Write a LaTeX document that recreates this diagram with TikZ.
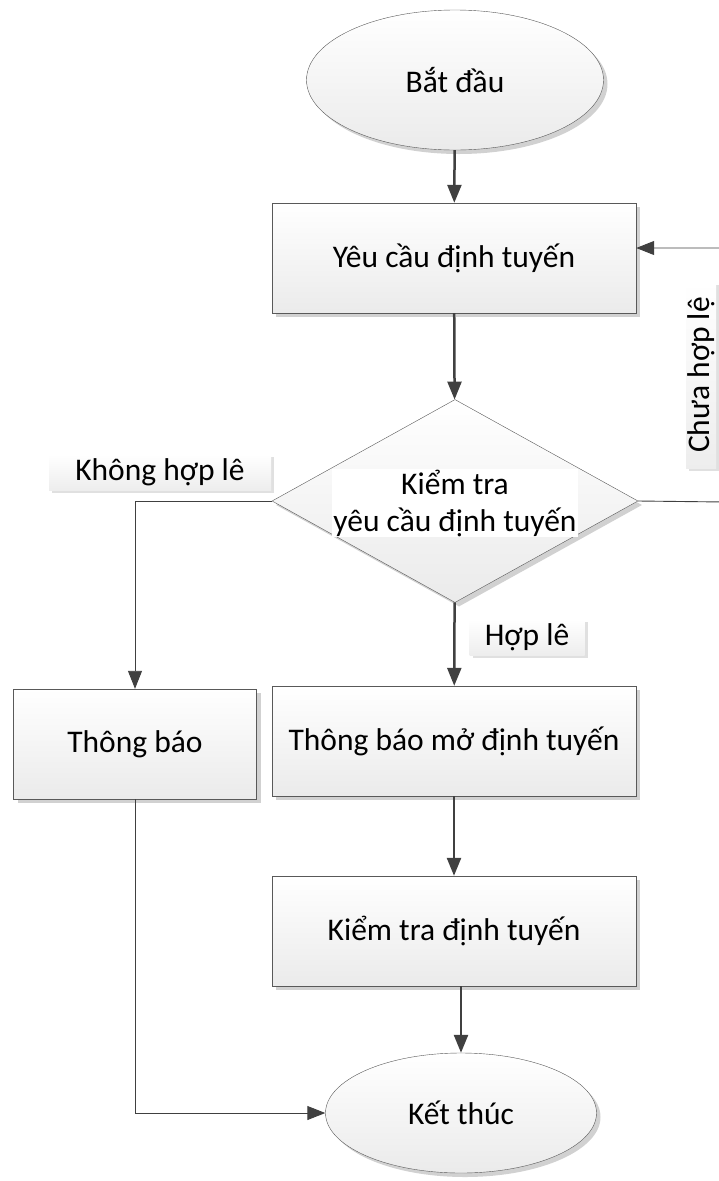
\documentclass[tikz,border=0pt]{standalone}
\usepackage{fontspec}
\setmainfont{Carlito}
\usetikzlibrary{arrows.meta,positioning,calc,shapes.geometric,shadows}

\begin{document}
\begin{tikzpicture}[
		x=1pt, y=-1pt,
		>={Triangle[length=18pt,width=14pt]},
		txt/.style={font=\fontsize{31.5}{37}\selectfont, align=center, text=black},
		boxshade/.style={draw=black!65, top color=white, bottom color=gray!16,
			drop shadow={shadow xshift=4pt, shadow yshift=-4pt, opacity=0.18, fill=black}},
		procbox/.style={boxshade, txt, minimum width=364pt, minimum height=110pt, inner sep=0pt},
		termnode/.style={boxshade, txt, ellipse, inner sep=0pt},
		decnode/.style={boxshade, diamond, minimum width=366pt, minimum height=203pt, inner sep=0pt},
		tagbox/.style={txt, top color=white, bottom color=gray!14, inner sep=0pt,
			drop shadow={shadow xshift=3pt, shadow yshift=-3pt, opacity=0.12, fill=black}},
		flow/.style={->, draw=black!75, line width=2.5pt},
		thinflow/.style={->, draw=black!75, line width=0.9pt}
		]
		\useasboundingbox (0,0) rectangle (719,1181);
		
		% Main column
		\node[termnode, minimum width=297pt, minimum height=140pt] (start) at (455,80) {Bắt đầu};
		\node[procbox] (req) at (454,258) {Yêu cầu định tuyến};
		\node[decnode] (chk) at (455,501) {};
		\node[txt, fill=white, inner sep=1pt] (chkTxt) at (455,503) {Kiểm tra\\yêu cầu định tuyến};
		\node[procbox] (ok) at (454,741) {Thông báo mở định tuyến};
		\node[procbox] (verify) at (454,931) {Kiểm tra định tuyến};
		\node[termnode, minimum width=271pt, minimum height=120pt] (finish) at (461,1113) {Kết thúc};
		
		% Left column
		\node[procbox, minimum width=243pt, minimum height=110pt] (notify) at (135,744) {Thông báo};
		
		% Branch labels
		\node[tagbox, minimum width=222pt, minimum height=36pt] (lblNo) at (160,472) {Không hợp lê};
		\node[tagbox, minimum width=115pt, minimum height=36pt] (lblYes) at (527,637) {Hợp lê};
		\node[tagbox, rotate=90, minimum width=186pt, minimum height=30pt] (lblRetry) at (701,375) {Chưa hợp lệ};
		
		\coordinate (loopR) at (724,502);
		
		% Arrows
		\draw[flow] (start) -- (req);
		\draw[flow] (req) -- (chk);
		\draw[flow] (chk) -- (ok);
		\draw[flow] (ok) -- (verify);
		\draw[flow] (verify.south -| finish.north) -- (finish.north);
		
		\draw[thinflow] (chk.west) -| (notify.north);
		\draw[thinflow] (chk.east) -- (loopR) |- ([yshift=10pt]req.east);
		\draw[thinflow] (notify.south) |- (finish.west);
		
	\end{tikzpicture}
\end{document}
